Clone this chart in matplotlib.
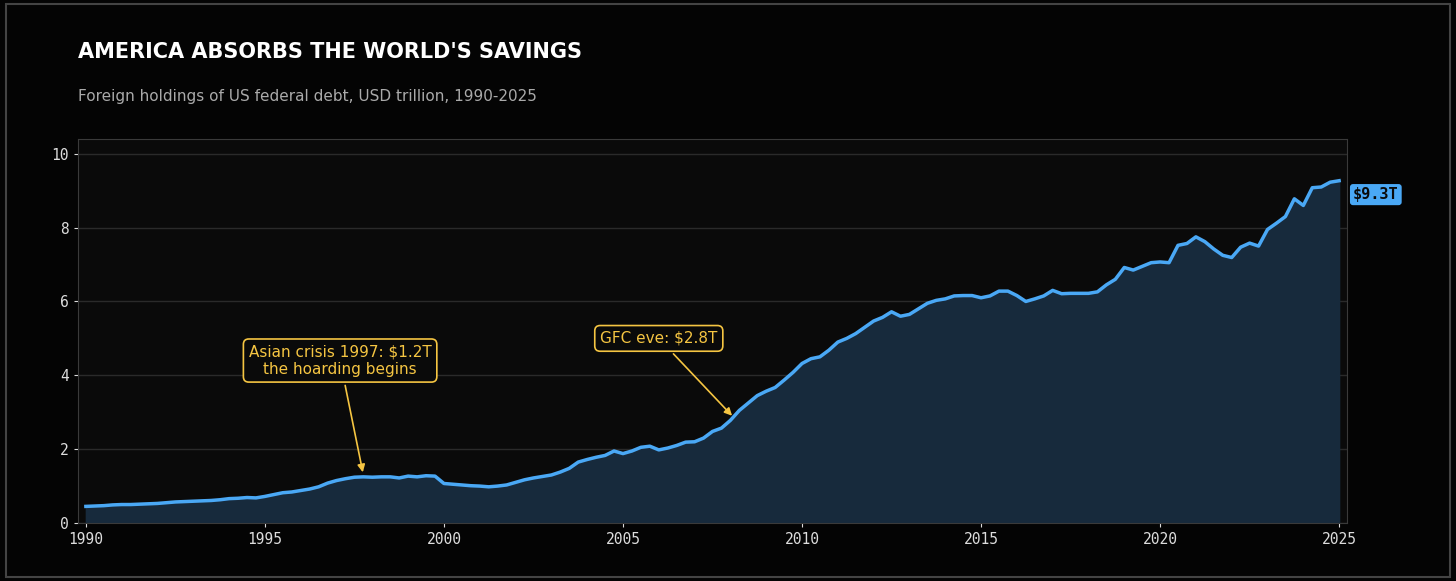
import numpy as np
import matplotlib
matplotlib.use('Agg')
import matplotlib.pyplot as plt
from matplotlib.patches import Rectangle

# quarterly foreign holdings, USD trillion, 1990Q1 .. 2025Q1
holdings = [
    0.45, 0.46, 0.47, 0.49,  # 1990
    0.50, 0.50, 0.51, 0.52,
    0.53, 0.55, 0.57, 0.58,
    0.59, 0.60, 0.61, 0.63,
    0.66, 0.67, 0.69, 0.68,
    0.72, 0.77, 0.82, 0.84,  # 1995
    0.88, 0.92, 0.98, 1.08,
    1.15, 1.20, 1.24, 1.25,
    1.24, 1.25, 1.25, 1.22,
    1.27, 1.25, 1.28, 1.27,
    1.07, 1.05, 1.03, 1.01,  # 2000
    1.00, 0.98, 1.00, 1.03,
    1.10, 1.17, 1.22, 1.26,
    1.30, 1.38, 1.48, 1.65,
    1.72, 1.78, 1.83, 1.95,
    1.88, 1.95, 2.05, 2.08,  # 2005
    1.98, 2.03, 2.10, 2.19,
    2.20, 2.30, 2.48, 2.57,
    2.78, 3.05, 3.25, 3.45,
    3.57, 3.67, 3.87, 4.08,
    4.32, 4.45, 4.50, 4.68,  # 2010
    4.90, 5.00, 5.13, 5.30,
    5.47, 5.57, 5.72, 5.60,
    5.65, 5.80, 5.95, 6.03,
    6.07, 6.15, 6.16, 6.16,
    6.10, 6.15, 6.28, 6.28,  # 2015
    6.16, 6.00, 6.07, 6.15,
    6.30, 6.21, 6.22, 6.22,
    6.22, 6.26, 6.45, 6.60,
    6.92, 6.85, 6.95, 7.05,
    7.07, 7.05, 7.52, 7.57,  # 2020
    7.75, 7.62, 7.42, 7.25,
    7.19, 7.47, 7.58, 7.50,
    7.95, 8.12, 8.30, 8.78,
    8.60, 9.08, 9.10, 9.23,
    9.27,                    # 2025
]
years = 1990 + np.arange(len(holdings)) / 4.0
xticks = [1990, 1995, 2000, 2005, 2010, 2015, 2020, 2025]
yticks = [0, 2, 4, 6, 8, 10]

lineBlue = '#4aa8f5'
fillBlue = '#172a3c'
gold = '#f5c542'
grey = '#bbbbbb'

fig = plt.figure(figsize=(14.56, 5.81), dpi=100, facecolor='#040404')
fig.patches.append(Rectangle((0.004, 0.007), 0.992, 0.986, transform=fig.transFigure,
                             fill=False, edgecolor='#444444', lw=1.5))
ax = fig.add_axes([78/1456, 1-523/581, (1347-78)/1456, (523-139)/581])
ax.set_facecolor('#0a0a0a')

ax.fill_between(years, holdings, 0, color=fillBlue, zorder=2)
ax.plot(years, holdings, color=lineBlue, lw=2.5, zorder=3)

ax.set_xlim(1989.78, 2025.22)
ax.set_ylim(0, 10.4)
ax.set_xticks(xticks)
ax.set_yticks(yticks)
ax.grid(axis='y', color='#2a2a2a', lw=1, zorder=1)
for s in ax.spines.values():
    s.set_color('#3a3a3a')
ax.tick_params(colors='#dddddd', labelsize=10.5, length=3)
for lab in ax.get_xticklabels() + ax.get_yticklabels():
    lab.set_family('DejaVu Sans Mono')

fig.text(78/1456, 1-52/581, "AMERICA ABSORBS THE WORLD'S SAVINGS", color='white',
         fontsize=15, fontweight='bold', va='center')
fig.text(78/1456, 1-96/581, 'Foreign holdings of US federal debt, USD trillion, 1990-2025',
         color='#aaaaaa', fontsize=11, va='center')

box = dict(boxstyle='round,pad=0.35', fc='#0a0a0a', ec=gold, lw=1.2)
ax.annotate('Asian crisis 1997: $1.2T\nthe hoarding begins', xy=(1997.75, 1.3),
            xytext=(1997.1, 4.4), color=gold, fontsize=11, ha='center', va='center',
            bbox=box, arrowprops=dict(arrowstyle='-|>', color=gold, lw=1.2))
ax.annotate('GFC eve: $2.8T', xy=(2008.1, 2.85), xytext=(2006.0, 5.0), color=gold,
            fontsize=11, ha='center', va='center', bbox=box,
            arrowprops=dict(arrowstyle='-|>', color=gold, lw=1.2))

ax.annotate('$9.3T', xy=(years[-1], holdings[-1]), xytext=(10, -10), textcoords='offset points',
            color='#0a0a0a', fontsize=11, fontweight='bold', family='DejaVu Sans Mono',
            va='center', ha='left', annotation_clip=False,
            bbox=dict(boxstyle='round,pad=0.2', fc=lineBlue, ec='none'))

fig.savefig('out.png', dpi=100, facecolor=fig.get_facecolor())
